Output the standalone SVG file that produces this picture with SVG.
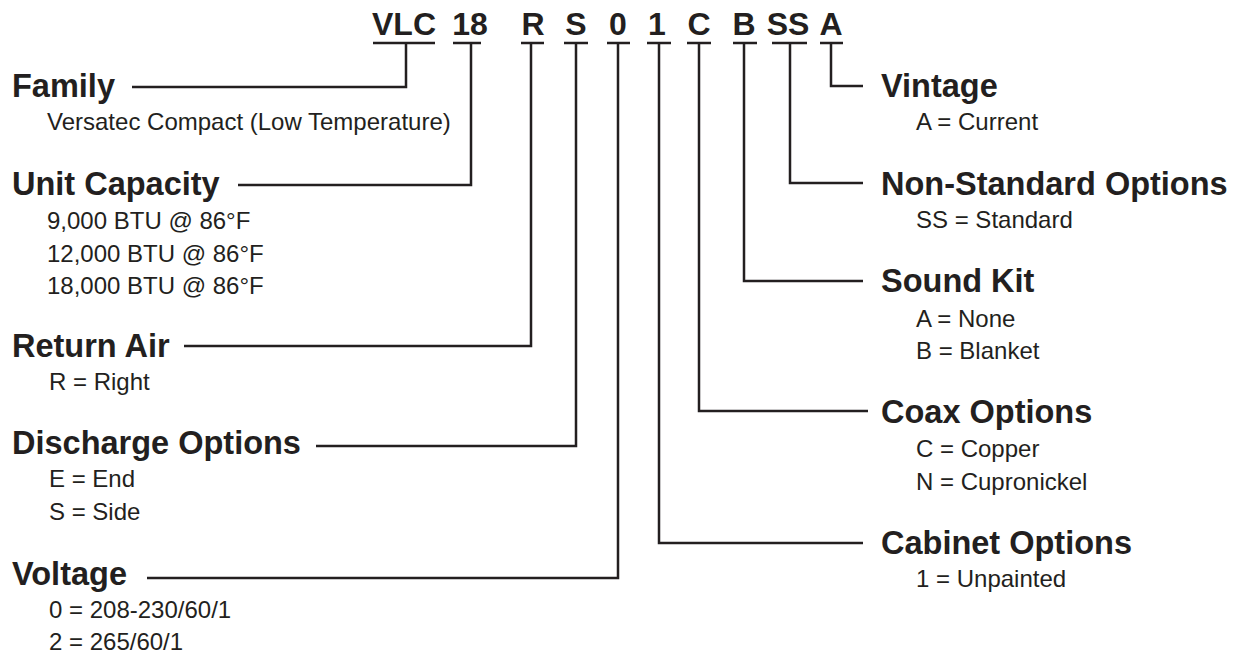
<svg xmlns="http://www.w3.org/2000/svg" width="1235" height="655" viewBox="0 0 1235 655">
<style>
.code{font-family:"Liberation Sans",Arial,sans-serif;font-weight:bold;font-size:32px;fill:#231f20;text-anchor:middle}
.h{font-family:"Liberation Sans",Arial,sans-serif;font-weight:bold;font-size:32.5px;fill:#231f20}
.s{font-family:"Liberation Sans",Arial,sans-serif;font-size:24px;fill:#231f20}
.ln{fill:none;stroke:#231f20;stroke-width:2.5}
</style>
<rect width="1235" height="655" fill="#fff"/>
<g id="code">
<text class="code" x="404" y="35">VLC</text>
<text class="code" x="470" y="35">18</text>
<text class="code" x="533" y="35">R</text>
<text class="code" x="576" y="35">S</text>
<text class="code" x="618" y="35">0</text>
<text class="code" x="657" y="35">1</text>
<text class="code" x="699" y="35">C</text>
<text class="code" x="744" y="35">B</text>
<text class="code" x="788" y="35">SS</text>
<text class="code" x="831" y="35">A</text>
</g>
<g id="connectors">
<path class="ln" d="M373 43H435M453 43H481M521 43H544M564 43H588M607 43H630M647 43H671M687 43H711M733 43H757M772 43H807M820 43H843"/>
<path class="ln" d="M406 43V87H132"/>
<path class="ln" d="M471 43V185H238"/>
<path class="ln" d="M531 43V346H184"/>
<path class="ln" d="M576 43V446H316"/>
<path class="ln" d="M618 43V578H147"/>
<path class="ln" d="M659 43V543H863"/>
<path class="ln" d="M699 43V411H868"/>
<path class="ln" d="M744 43V281H863"/>
<path class="ln" d="M790 43V183H863"/>
<path class="ln" d="M831 43V86H863"/>
</g>
<g id="family"><text class="h" x="12" y="97">Family</text><text class="s" x="47" y="130">Versatec Compact (Low Temperature)</text></g>
<g id="unit-capacity"><text class="h" x="12" y="195">Unit Capacity</text><text class="s" x="47" y="229">9,000 BTU @ 86°F</text><text class="s" x="47" y="262">12,000 BTU @ 86°F</text><text class="s" x="47" y="294">18,000 BTU @ 86°F</text></g>
<g id="return-air"><text class="h" x="12" y="357">Return Air</text><text class="s" x="49" y="390">R = Right</text></g>
<g id="discharge"><text class="h" x="12" y="454">Discharge Options</text><text class="s" x="49" y="487">E = End</text><text class="s" x="49" y="520">S = Side</text></g>
<g id="voltage"><text class="h" x="12" y="585">Voltage</text><text class="s" x="49" y="618">0 = 208-230/60/1</text><text class="s" x="49" y="650">2 = 265/60/1</text></g>
<g id="vintage"><text class="h" x="881" y="97">Vintage</text><text class="s" x="916" y="130">A = Current</text></g>
<g id="non-standard"><text class="h" x="881" y="195">Non-Standard Options</text><text class="s" x="916" y="228">SS = Standard</text></g>
<g id="sound-kit"><text class="h" x="881" y="292">Sound Kit</text><text class="s" x="916" y="327">A = None</text><text class="s" x="916" y="359">B = Blanket</text></g>
<g id="coax"><text class="h" x="881" y="423">Coax Options</text><text class="s" x="916" y="457">C = Copper</text><text class="s" x="916" y="490">N = Cupronickel</text></g>
<g id="cabinet"><text class="h" x="881" y="554">Cabinet Options</text><text class="s" x="916" y="587">1 = Unpainted</text></g>
</svg>
